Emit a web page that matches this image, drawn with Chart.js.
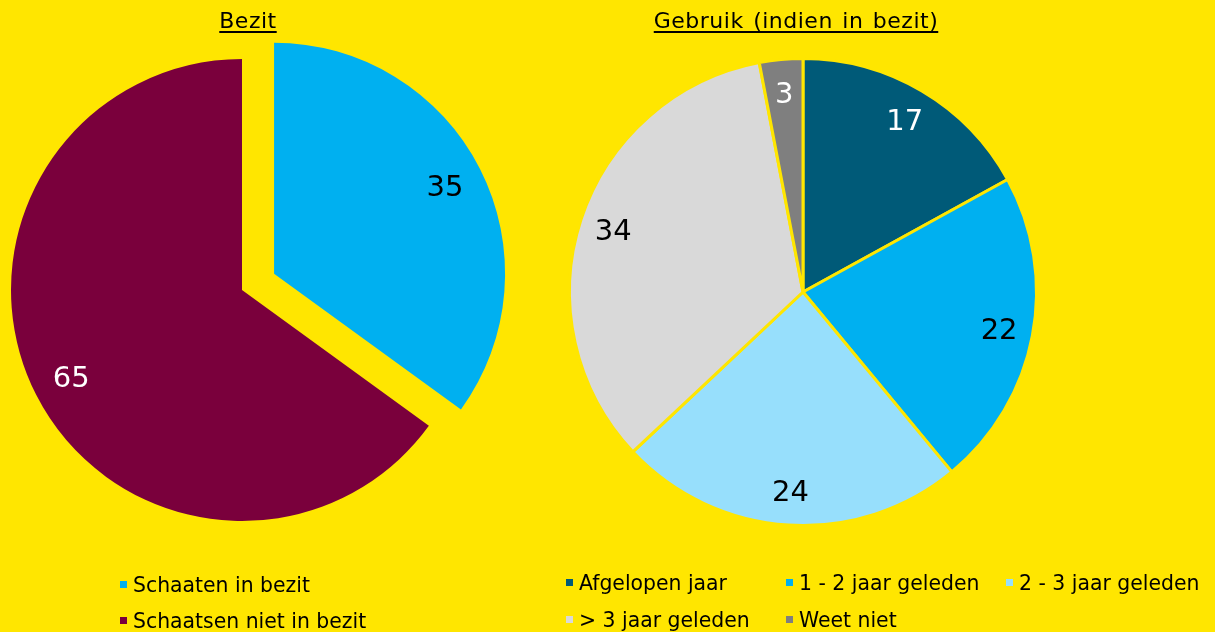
<!DOCTYPE html>
<html>
<head>
<meta charset="utf-8">
<script src="https://cdn.jsdelivr.net/npm/chart.js@4/dist/chart.umd.min.js"></script>
<style>
html,body{margin:0;padding:0;background:#FFE600;}
#wrap{position:relative;width:1215px;height:632px;overflow:hidden;background:#FFE600;font-family:"DejaVu Sans",sans-serif;color:#000;}
canvas{position:absolute;left:0;top:0;}
.title{position:absolute;top:8px;font-size:22px;line-height:26px;text-align:center;white-space:nowrap;text-decoration:underline;text-decoration-thickness:2px;text-underline-offset:3px;letter-spacing:0.5px;word-spacing:2px;}
.leg{position:absolute;font-size:20.4px;line-height:24px;white-space:nowrap;}
.sq{position:absolute;width:7px;height:7px;}
</style>
</head>
<body>
<div id="wrap">
  <canvas id="c1" width="1215" height="632"></canvas>
  <canvas id="c2" width="1215" height="632"></canvas>
</div>
<script>
// ---- data ----
const bezitTitle = 'Bezit';
const bezitLabels = ['Schaaten in bezit', 'Schaatsen niet in bezit'];
const bezitValues = [35, 65];

const gebruikTitle = 'Gebruik (indien in bezit)';
const gebruikLabels = ['Afgelopen jaar', '1 - 2 jaar geleden', '2 - 3 jaar geleden', '> 3 jaar geleden', 'Weet niet'];
const gebruikValues = [17, 22, 24, 34, 3];

// ---- styles ----
const bg = '#FFE600';
const bezitColors = ['#00B0F0', '#7A003C'];
const bezitLabelColors = ['#000000', '#FFFFFF'];
const gebruikColors = ['#005A78', '#00B0F0', '#97DFFC', '#D9D9D9', '#7F7F7F'];
const gebruikLabelColors = ['#FFFFFF', '#000000', '#000000', '#000000', '#FFFFFF'];

// ---- plugins ----
const explode = {
  id: 'explode',
  afterDatasetsUpdate(chart, args, opts) {
    if (!opts || !opts.distance) return;
    const meta = chart.getDatasetMeta(0);
    (opts.indices || []).forEach(i => {
      const arc = meta.data[i];
      if (!arc || arc._exploded) return;
      const orig = arc.draw;
      arc._exploded = true;
      arc.draw = function (ctx) {
        const mid = (this.startAngle + this.endAngle) / 2;
        ctx.save();
        ctx.translate(Math.cos(mid) * opts.distance, Math.sin(mid) * opts.distance);
        orig.call(this, ctx);
        ctx.restore();
      };
    });
  }
};

const sliceLabels = {
  id: 'sliceLabels',
  afterDatasetsDraw(chart, args, opts) {
    const ctx = chart.ctx;
    const meta = chart.getDatasetMeta(0);
    const ds = chart.data.datasets[0];
    const ex = (chart.options.plugins && chart.options.plugins.explode) || {};
    ctx.save();
    ctx.font = opts.labelFont;
    ctx.textAlign = 'center';
    ctx.textBaseline = 'middle';
    meta.data.forEach((arc, i) => {
      const p = arc.getProps(['x', 'y', 'startAngle', 'endAngle', 'outerRadius'], true);
      const mid = (p.startAngle + p.endAngle) / 2;
      const off = (ex.indices && ex.indices.indexOf(i) >= 0) ? (ex.distance || 0) : 0;
      const d = off + p.outerRadius * opts.frac;
      ctx.fillStyle = opts.colors[i];
      ctx.fillText(String(ds.data[i]), p.x + Math.cos(mid) * d, p.y + Math.sin(mid) * d + 2);
    });
    ctx.restore();
  }
};

function baseOpts(padding, radius) {
  return {
    responsive: false,
    animation: false,
    devicePixelRatio: 1,
    events: [],
    radius: radius,
    layout: { padding: padding },
    plugins: { legend: { display: false }, tooltip: { enabled: false }, title: { display: false } }
  };
}

// Left pie: Bezit
const o1 = baseOpts({ left: 0, right: 731, top: 0, bottom: 52 }, 231);
o1.plugins.explode = { indices: [0], distance: 36 };
o1.plugins.sliceLabels = { labelFont: '29px "DejaVu Sans"', frac: 0.83, colors: bezitLabelColors };
new Chart(document.getElementById('c1'), {
  type: 'pie',
  data: {
    labels: bezitLabels,
    datasets: [{ data: bezitValues, backgroundColor: bezitColors, borderWidth: 0 }]
  },
  options: o1,
  plugins: [explode, sliceLabels]
});

// Right pie: Gebruik
const o2 = baseOpts({ left: 391, right: 0, top: 0, bottom: 48 }, 233.5);
o2.plugins.sliceLabels = { labelFont: '29px "DejaVu Sans"', frac: 0.855, colors: gebruikLabelColors };
new Chart(document.getElementById('c2'), {
  type: 'pie',
  data: {
    labels: gebruikLabels,
    datasets: [{ data: gebruikValues, backgroundColor: gebruikColors, borderColor: bg, borderWidth: 3 }]
  },
  options: o2,
  plugins: [sliceLabels]
});

// ---- titles & legends (HTML text) ----
const wrap = document.getElementById('wrap');
function addTitle(text, cx) {
  const d = document.createElement('div');
  d.className = 'title';
  d.textContent = text;
  d.style.left = (cx - 300) + 'px';
  d.style.width = '600px';
  wrap.appendChild(d);
}
addTitle(bezitTitle, 248);
addTitle(gebruikTitle, 796);

function addLegendItem(text, color, sqX, baseline) {
  const s = document.createElement('div');
  s.className = 'sq';
  s.style.left = sqX + 'px';
  s.style.top = (baseline - 11) + 'px';
  s.style.background = color;
  wrap.appendChild(s);
  const t = document.createElement('div');
  t.className = 'leg';
  t.textContent = text;
  t.style.left = (sqX + 13) + 'px';
  t.style.top = (baseline - 19) + 'px';
  wrap.appendChild(t);
}
const leftLegendPos = [[120, 592], [120, 628]];
bezitLabels.forEach((l, i) => addLegendItem(l, bezitColors[i], leftLegendPos[i][0], leftLegendPos[i][1]));
const rightLegendPos = [[566, 590], [786, 590], [1006, 590], [566, 627], [786, 627]];
gebruikLabels.forEach((l, i) => addLegendItem(l, gebruikColors[i], rightLegendPos[i][0], rightLegendPos[i][1]));
</script>
</body>
</html>
